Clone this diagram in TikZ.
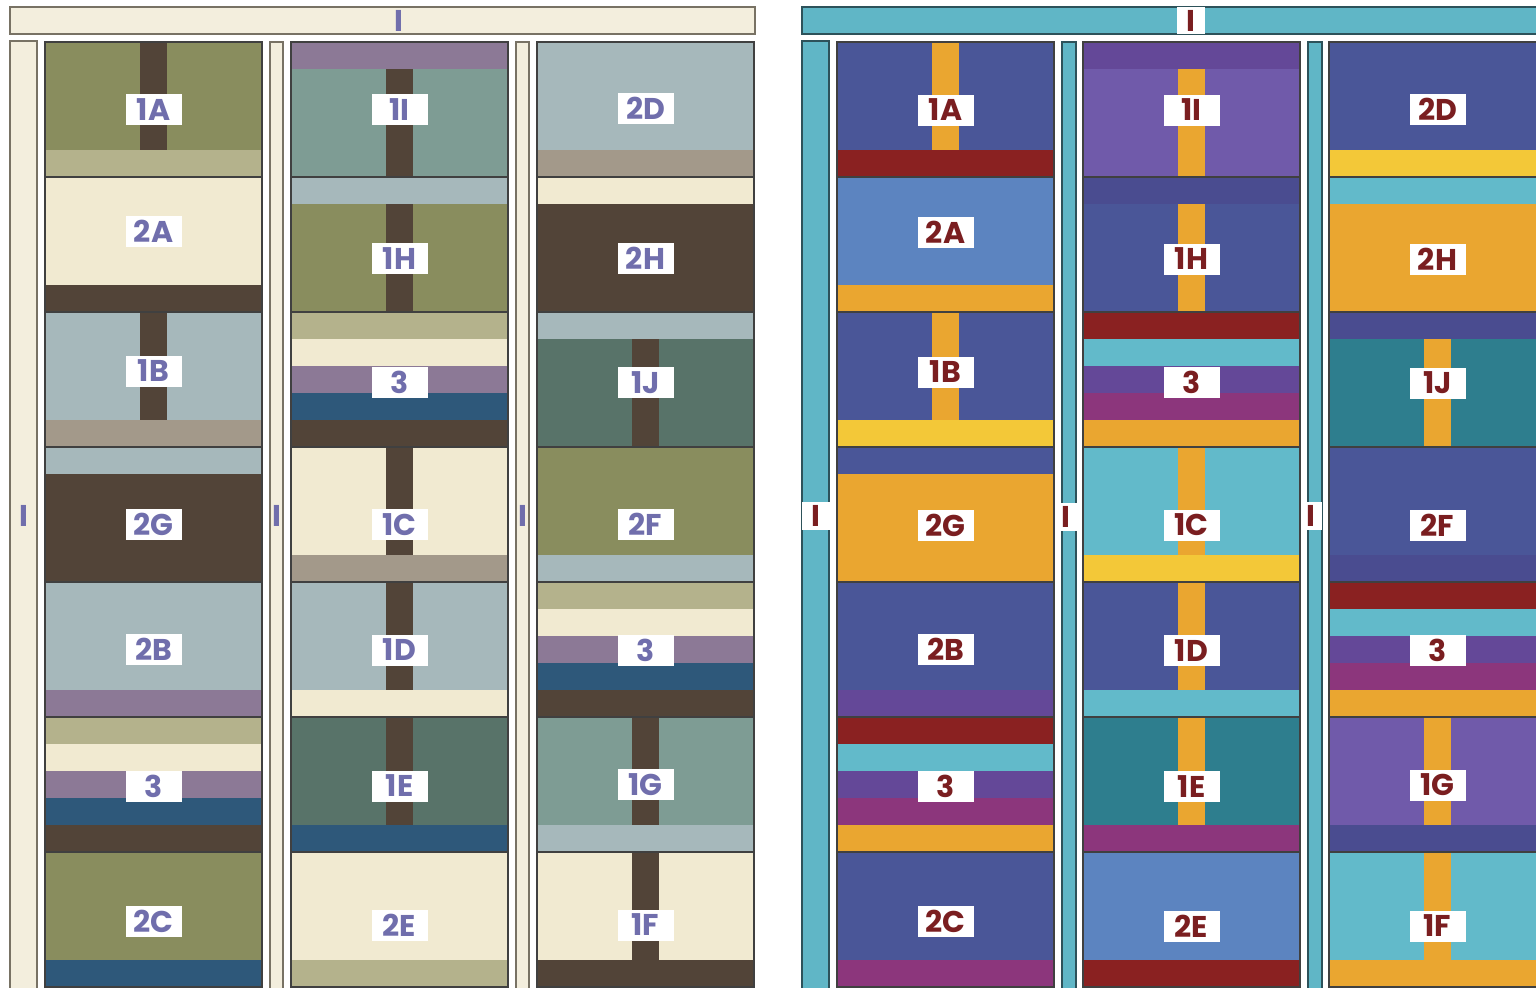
\documentclass[tikz,border=0pt]{standalone}
\usepackage{fontspec}
\setmainfont{Poppins}
\usepackage{tikz}

% neutral quilt
\definecolor{lolive}{RGB}{137,141,94}
\definecolor{lkhaki}{RGB}{180,178,140}
\definecolor{lbrown}{RGB}{82,68,56}
\definecolor{lcream}{RGB}{241,234,209}
\definecolor{lsky}{RGB}{166,184,187}
\definecolor{ltaupe}{RGB}{163,153,138}
\definecolor{lmauve}{RGB}{140,121,150}
\definecolor{lnavy}{RGB}{46,88,122}
\definecolor{lsage}{RGB}{126,156,148}
\definecolor{lfir}{RGB}{88,115,105}
\definecolor{lsash}{RGB}{243,238,221}
\definecolor{lsashline}{RGB}{120,114,100}
\definecolor{ltext}{RGB}{112,110,172}
% bright quilt
\definecolor{rindigo}{RGB}{74,86,152}
\definecolor{rdenim}{RGB}{92,132,192}
\definecolor{rgold}{RGB}{234,166,48}
\definecolor{rsun}{RGB}{243,200,56}
\definecolor{rwine}{RGB}{138,33,33}
\definecolor{raqua}{RGB}{98,186,202}
\definecolor{rplum}{RGB}{100,72,152}
\definecolor{rviolet}{RGB}{112,90,170}
\definecolor{rberry}{RGB}{140,54,124}
\definecolor{rteal}{RGB}{46,126,142}
\definecolor{rnight}{RGB}{74,76,144}
\definecolor{rsash}{RGB}{96,182,198}
\definecolor{rsashline}{RGB}{45,82,90}
\definecolor{rtext}{RGB}{122,30,32}

\tikzset{
  seam/.style={draw=black!75, line width=0.6pt},
  tag/.style={fill=white, inner sep=0pt, minimum width=28pt, minimum height=15.5pt,
    font=\fontsize{15}{15}\selectfont\bfseries},
}

% one block: name, x, y, five rows, cross bar from row .. to row, label y, label
\newcommand{\qblock}[8]{%
  \foreach \c [count=\i from 0] in {#4}
    \fill[\c] (#2,#3+27*\i) rectangle ++(217,27);
  \fill[crossbar] (#2+95,#3+27*#5) rectangle (#2+122,#3+27*#6);
  \draw[seam] (#2,#3) rectangle ++(217,135);
  \node[tag] (#1) at (#2+108.5,#7) {#8};
}

\begin{document}
\begin{tikzpicture}[x=0.5pt,y=-0.5pt]
  \useasboundingbox (0,0) rectangle (1536,987);
  \clip (0,0) rectangle (1536,987);
  \fill[white] (0,0) rectangle (1536,987);

  % left quilt
  \begin{scope}[crossbar/.style={fill=lbrown}, tag/.append style={text=ltext},
      sash/.style={fill=lsash, draw=lsashline, line width=0.7pt},
      sashtag/.style={tag, fill=none, minimum width=0pt, minimum height=0pt}]
    % sashing
    \draw[sash] (10,7) rectangle (755,34);
    \draw[sash] (10,41) rectangle (37,992);
    \draw[sash] (270,42) rectangle (283,992);
    \draw[sash] (516,42) rectangle (529,992);
    \node[sashtag] (ltop) at (399,20.5) {I};
    \node[sashtag] (lside1) at (24,516) {I};
    \node[sashtag] (lside2) at (277,516) {I};
    \node[sashtag] (lside3) at (523,516) {I};
    % column 1
    \qblock{la1}{45}{42}{lolive,lolive,lolive,lolive,lkhaki}{0}{4}{109.5}{1A}
    \qblock{la2}{45}{177}{lcream,lcream,lcream,lcream,lbrown}{0}{0}{231.5}{2A}
    \qblock{la3}{45}{312}{lsky,lsky,lsky,lsky,ltaupe}{0}{4}{371}{1B}
    \qblock{la4}{45}{447}{lsky,lbrown,lbrown,lbrown,lbrown}{0}{0}{524.5}{2G}
    \qblock{la5}{45}{582}{lsky,lsky,lsky,lsky,lmauve}{0}{0}{649}{2B}
    \qblock{la6}{45}{717}{lkhaki,lcream,lmauve,lnavy,lbrown}{0}{0}{786}{3}
    \qblock{la7}{45}{852}{lolive,lolive,lolive,lolive,lnavy}{0}{0}{921}{2C}
    % column 2
    \qblock{lb1}{291}{42}{lmauve,lsage,lsage,lsage,lsage}{1}{5}{109.5}{1I}
    \qblock{lb2}{291}{177}{lsky,lolive,lolive,lolive,lolive}{1}{5}{258.5}{1H}
    \qblock{lb3}{291}{312}{lkhaki,lcream,lmauve,lnavy,lbrown}{0}{0}{382}{3}
    \qblock{lb4}{291}{447}{lcream,lcream,lcream,lcream,ltaupe}{0}{4}{524.5}{1C}
    \qblock{lb5}{291}{582}{lsky,lsky,lsky,lsky,lcream}{0}{4}{650}{1D}
    \qblock{lb6}{291}{717}{lfir,lfir,lfir,lfir,lnavy}{0}{4}{786}{1E}
    \qblock{lb7}{291}{852}{lcream,lcream,lcream,lcream,lkhaki}{0}{0}{925}{2E}
    % column 3
    \qblock{lc1}{537}{42}{lsky,lsky,lsky,lsky,ltaupe}{0}{0}{108.5}{2D}
    \qblock{lc2}{537}{177}{lcream,lbrown,lbrown,lbrown,lbrown}{0}{0}{258.5}{2H}
    \qblock{lc3}{537}{312}{lsky,lfir,lfir,lfir,lfir}{1}{5}{382.5}{1J}
    \qblock{lc4}{537}{447}{lolive,lolive,lolive,lolive,lsky}{0}{0}{524.5}{2F}
    \qblock{lc5}{537}{582}{lkhaki,lcream,lmauve,lnavy,lbrown}{0}{0}{650}{3}
    \qblock{lc6}{537}{717}{lsage,lsage,lsage,lsage,lsky}{0}{4}{784.5}{1G}
    \qblock{lc7}{537}{852}{lcream,lcream,lcream,lcream,lbrown}{0}{4}{925}{1F}
  \end{scope}

  % right quilt
  \begin{scope}[shift={(792,0)}, crossbar/.style={fill=rgold}, tag/.append style={text=rtext},
      sash/.style={fill=rsash, draw=rsashline, line width=0.7pt},
      sashtag/.style={tag, minimum width=14pt, minimum height=14pt}]
    % sashing
    \draw[sash] (10,7) rectangle (760,34);
    \draw[sash] (10,41) rectangle (37,992);
    \draw[sash] (270,42) rectangle (284,992);
    \draw[sash] (516,42) rectangle (530,992);
    \node[sashtag, minimum height=13.5pt] (rtop) at (399,20.5) {I};
    \node[sashtag] (rside1) at (24,516) {I};
    \node[sashtag, minimum width=11pt] (rside2) at (274,517) {I};
    \node[sashtag, minimum width=11pt] (rside3) at (519,516) {I};
    % column 1
    \qblock{ra1}{45}{42}{rindigo,rindigo,rindigo,rindigo,rwine}{0}{4}{110}{1A}
    \qblock{ra2}{45}{177}{rdenim,rdenim,rdenim,rdenim,rgold}{0}{0}{232}{2A}
    \qblock{ra3}{45}{312}{rindigo,rindigo,rindigo,rindigo,rsun}{0}{4}{372}{1B}
    \qblock{ra4}{45}{447}{rindigo,rgold,rgold,rgold,rgold}{0}{0}{525}{2G}
    \qblock{ra5}{45}{582}{rindigo,rindigo,rindigo,rindigo,rplum}{0}{0}{649}{2B}
    \qblock{ra6}{45}{717}{rwine,raqua,rplum,rberry,rgold}{0}{0}{786}{3}
    \qblock{ra7}{45}{852}{rindigo,rindigo,rindigo,rindigo,rberry}{0}{0}{921}{2C}
    % column 2
    \qblock{rb1}{291}{42}{rplum,rviolet,rviolet,rviolet,rviolet}{1}{5}{110}{1I}
    \qblock{rb2}{291}{177}{rnight,rindigo,rindigo,rindigo,rindigo}{1}{5}{259}{1H}
    \qblock{rb3}{291}{312}{rwine,raqua,rplum,rberry,rgold}{0}{0}{382.5}{3}
    \qblock{rb4}{291}{447}{raqua,raqua,raqua,raqua,rsun}{0}{4}{525}{1C}
    \qblock{rb5}{291}{582}{rindigo,rindigo,rindigo,rindigo,raqua}{0}{4}{650.5}{1D}
    \qblock{rb6}{291}{717}{rteal,rteal,rteal,rteal,rberry}{0}{4}{786.5}{1E}
    \qblock{rb7}{291}{852}{rdenim,rdenim,rdenim,rdenim,rwine}{0}{0}{926}{2E}
    % column 3
    \qblock{rc1}{537}{42}{rindigo,rindigo,rindigo,rindigo,rsun}{0}{0}{109}{2D}
    \qblock{rc2}{537}{177}{raqua,rgold,rgold,rgold,rgold}{0}{0}{259}{2H}
    \qblock{rc3}{537}{312}{rnight,rteal,rteal,rteal,rteal}{1}{5}{383}{1J}
    \qblock{rc4}{537}{447}{rindigo,rindigo,rindigo,rindigo,rnight}{0}{0}{525}{2F}
    \qblock{rc5}{537}{582}{rwine,raqua,rplum,rberry,rgold}{0}{0}{650.5}{3}
    \qblock{rc6}{537}{717}{rviolet,rviolet,rviolet,rviolet,rnight}{0}{4}{785}{1G}
    \qblock{rc7}{537}{852}{raqua,raqua,raqua,raqua,rgold}{0}{4}{926}{1F}
  \end{scope}
\end{tikzpicture}
\end{document}
